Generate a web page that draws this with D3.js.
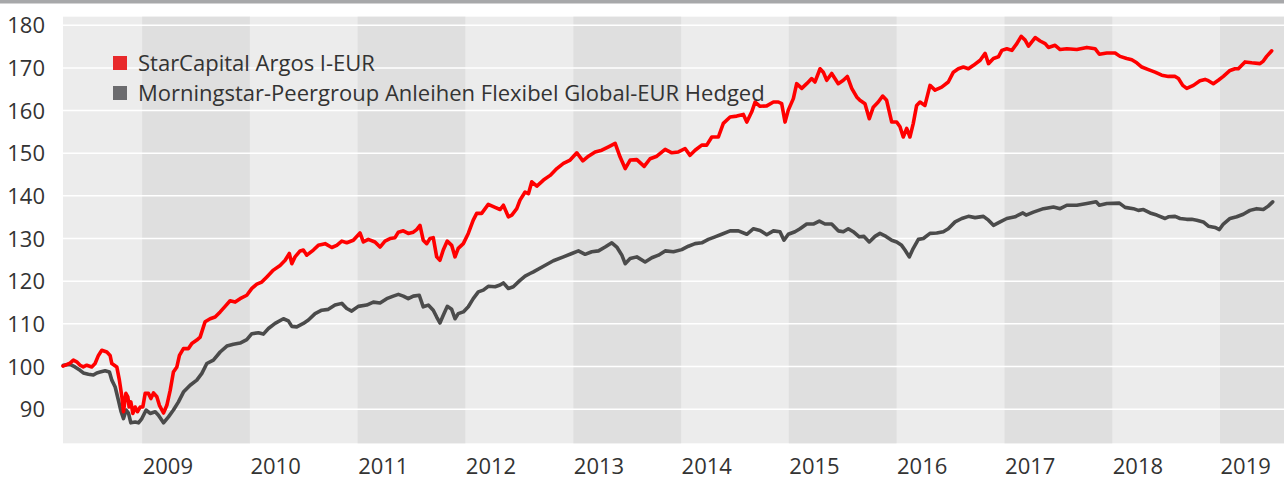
<!DOCTYPE html>
<html>
<head>
<meta charset="utf-8">
<script src="https://cdn.jsdelivr.net/npm/d3@7"></script>
<style>
  html, body { margin: 0; padding: 0; background: #ffffff; }
  svg { display: block; }
  text { font-family: "Open Sans", "Noto Sans", sans-serif; }
</style>
</head>
<body>
<svg id="chart" width="1284" height="477"></svg>
<script>
// ---- Data (decimal years, index values) ----
const seriesNames = ["StarCapital Argos I-EUR", "Morningstar-Peergroup Anleihen Flexibel Global-EUR Hedged"];
const seriesColors = ["#ff0000", "#4b4b4b"];
const legendColors = ["#e8292b", "#6b6b6e"];

const redDates = [2008.267,2008.332,2008.363,2008.394,2008.425,2008.455,2008.487,2008.533,2008.564,2008.595,2008.626,2008.673,2008.703,2008.719,2008.765,2008.789,2008.812,2008.827,2008.849,2008.867,2008.879,2008.895,2008.914,2008.935,2008.956,2008.981,2009.006,2009.028,2009.058,2009.081,2009.105,2009.136,2009.160,2009.198,2009.229,2009.260,2009.290,2009.322,2009.346,2009.383,2009.430,2009.461,2009.507,2009.538,2009.584,2009.631,2009.677,2009.724,2009.770,2009.816,2009.863,2009.909,2009.971,2010.018,2010.064,2010.110,2010.157,2010.218,2010.280,2010.327,2010.366,2010.389,2010.419,2010.466,2010.496,2010.528,2010.589,2010.635,2010.698,2010.760,2010.806,2010.853,2010.899,2010.960,2011.022,2011.053,2011.099,2011.161,2011.208,2011.254,2011.301,2011.347,2011.378,2011.424,2011.470,2011.517,2011.548,2011.579,2011.609,2011.641,2011.672,2011.702,2011.734,2011.764,2011.795,2011.832,2011.873,2011.904,2011.934,2011.981,2012.027,2012.073,2012.105,2012.151,2012.212,2012.275,2012.321,2012.352,2012.398,2012.430,2012.476,2012.506,2012.553,2012.584,2012.615,2012.662,2012.723,2012.785,2012.847,2012.908,2012.970,2013.032,2013.088,2013.140,2013.202,2013.264,2013.326,2013.388,2013.434,2013.481,2013.527,2013.589,2013.657,2013.712,2013.775,2013.852,2013.914,2013.975,2014.037,2014.083,2014.130,2014.192,2014.238,2014.285,2014.346,2014.392,2014.455,2014.517,2014.578,2014.610,2014.656,2014.687,2014.733,2014.795,2014.857,2014.903,2014.934,2014.965,2014.995,2015.042,2015.073,2015.120,2015.166,2015.212,2015.243,2015.290,2015.320,2015.352,2015.398,2015.459,2015.506,2015.543,2015.584,2015.630,2015.660,2015.707,2015.747,2015.784,2015.830,2015.871,2015.908,2015.955,2016.001,2016.032,2016.062,2016.094,2016.124,2016.155,2016.186,2016.217,2016.263,2016.310,2016.356,2016.418,2016.479,2016.526,2016.572,2016.619,2016.665,2016.712,2016.774,2016.820,2016.851,2016.897,2016.943,2016.975,2017.021,2017.068,2017.114,2017.154,2017.191,2017.222,2017.253,2017.284,2017.330,2017.377,2017.407,2017.469,2017.516,2017.578,2017.671,2017.764,2017.840,2017.880,2017.949,2018.026,2018.072,2018.134,2018.181,2018.227,2018.274,2018.335,2018.397,2018.459,2018.521,2018.583,2018.614,2018.654,2018.691,2018.753,2018.814,2018.861,2018.892,2018.938,2018.984,2019.031,2019.093,2019.139,2019.170,2019.232,2019.294,2019.371,2019.402,2019.433,2019.480];
const redValues = [100.1,100.8,101.5,101.1,100.3,99.9,100.3,99.9,100.7,102.6,103.8,103.4,102.6,100.7,99.9,96.8,92.9,89.4,93.7,92.9,90.5,91.7,89.0,90.5,89.4,90.5,90.5,93.7,93.7,92.5,93.8,92.9,90.9,89.1,90.9,94.4,98.7,99.9,102.6,104.2,104.2,105.4,106.2,106.9,110.5,111.2,111.6,112.8,114.1,115.4,115.1,115.9,116.7,118.3,119.3,119.8,121.0,122.6,123.7,124.9,126.5,124.1,125.7,127.1,127.3,126.1,127.3,128.4,128.8,127.9,128.4,129.4,129.0,129.6,131.3,129.2,129.8,129.2,128.0,129.4,130.0,130.2,131.5,131.8,131.2,131.5,132.1,133.1,129.6,128.8,130.0,130.2,125.7,124.9,127.3,129.4,128.4,125.7,127.7,128.8,131.2,134.3,135.9,135.9,138.0,137.3,136.8,137.8,135.1,135.5,137.0,139.0,140.9,140.5,143.3,142.3,143.7,144.8,146.4,147.6,148.4,150.1,148.2,149.3,150.3,150.7,151.5,152.3,149.1,146.4,148.4,148.5,146.9,148.7,149.3,150.9,150.1,150.3,151.1,149.5,150.7,151.9,151.9,153.8,153.8,157.0,158.5,158.7,159.1,157.3,159.7,162.0,161.0,161.1,162.0,162.0,161.6,157.3,160.1,162.8,166.3,165.2,166.3,167.5,166.7,169.8,169.0,167.1,168.7,166.3,167.1,168.0,165.2,163.2,162.4,161.6,158.1,160.8,162.0,163.4,162.4,157.3,157.3,156.2,153.8,155.8,153.8,157.0,161.2,162.0,161.2,165.9,164.8,165.5,166.7,169.0,169.8,170.2,169.8,170.6,171.8,173.4,171.0,172.2,172.6,174.1,174.5,174.1,175.7,177.4,176.5,175.1,176.1,177.1,176.3,175.7,174.8,175.3,174.3,174.5,174.3,174.8,174.5,173.2,173.5,173.5,172.7,172.2,171.9,171.2,170.2,169.6,169.0,168.3,168.0,168.0,167.5,165.9,165.2,165.9,167.0,167.3,167.0,166.3,167.1,168.0,169.4,169.8,169.8,171.4,171.2,171.0,171.6,172.7,174.0];

const grayDates = [2008.270,2008.332,2008.378,2008.425,2008.455,2008.502,2008.548,2008.580,2008.610,2008.657,2008.697,2008.719,2008.750,2008.780,2008.805,2008.827,2008.852,2008.873,2008.895,2008.935,2008.966,2008.997,2009.037,2009.074,2009.121,2009.151,2009.198,2009.244,2009.290,2009.337,2009.383,2009.445,2009.507,2009.554,2009.600,2009.661,2009.724,2009.786,2009.847,2009.909,2009.971,2010.018,2010.079,2010.125,2010.172,2010.234,2010.311,2010.357,2010.389,2010.435,2010.466,2010.496,2010.543,2010.605,2010.667,2010.728,2010.790,2010.853,2010.899,2010.945,2011.006,2011.084,2011.146,2011.208,2011.270,2011.331,2011.378,2011.424,2011.470,2011.517,2011.572,2011.609,2011.656,2011.702,2011.734,2011.764,2011.795,2011.832,2011.873,2011.904,2011.934,2011.981,2012.027,2012.073,2012.120,2012.166,2012.212,2012.275,2012.321,2012.352,2012.398,2012.444,2012.506,2012.553,2012.599,2012.630,2012.723,2012.815,2012.908,2012.986,2013.047,2013.109,2013.171,2013.233,2013.295,2013.357,2013.403,2013.450,2013.481,2013.527,2013.589,2013.666,2013.728,2013.790,2013.852,2013.929,2014.006,2014.068,2014.130,2014.192,2014.253,2014.315,2014.377,2014.455,2014.532,2014.610,2014.672,2014.733,2014.795,2014.857,2014.918,2014.955,2014.995,2015.057,2015.104,2015.166,2015.227,2015.283,2015.336,2015.398,2015.459,2015.506,2015.552,2015.598,2015.654,2015.698,2015.747,2015.800,2015.846,2015.902,2015.955,2016.001,2016.047,2016.078,2016.118,2016.155,2016.202,2016.248,2016.310,2016.372,2016.433,2016.479,2016.542,2016.604,2016.665,2016.727,2016.804,2016.851,2016.897,2016.959,2017.021,2017.098,2017.170,2017.200,2017.268,2017.361,2017.454,2017.516,2017.578,2017.671,2017.764,2017.850,2017.880,2017.949,2018.066,2018.119,2018.196,2018.242,2018.289,2018.351,2018.413,2018.490,2018.521,2018.583,2018.629,2018.691,2018.738,2018.784,2018.845,2018.892,2018.954,2018.994,2019.031,2019.093,2019.155,2019.216,2019.278,2019.340,2019.402,2019.448,2019.489];
const grayValues = [100.3,100.5,99.9,99.1,98.5,98.2,98.0,98.5,98.7,99.0,98.7,96.8,95.2,92.1,89.4,87.8,89.8,89.1,86.8,87.0,86.8,87.8,89.8,89.0,89.4,88.6,86.8,88.2,89.8,91.7,94.0,95.6,96.8,98.4,100.7,101.5,103.4,104.8,105.2,105.5,106.3,107.7,107.9,107.6,108.9,110.1,111.2,110.7,109.4,109.3,109.7,110.1,110.9,112.4,113.2,113.4,114.4,114.8,113.6,113.0,114.1,114.4,115.1,114.9,115.9,116.5,116.9,116.5,115.9,116.5,116.7,114.0,114.4,113.2,111.6,110.2,112.0,114.1,113.4,111.2,112.4,112.8,114.0,115.9,117.5,117.9,118.8,118.7,119.1,119.6,118.3,118.7,120.2,121.2,121.8,122.2,123.5,124.8,125.7,126.5,127.1,126.3,126.9,127.1,128.0,129.0,128.0,126.1,124.1,125.3,125.7,124.5,125.5,126.1,127.1,126.9,127.4,128.2,128.8,129.0,129.8,130.4,131.0,131.8,131.8,131.0,132.3,131.9,130.9,131.8,131.6,129.6,131.0,131.6,132.3,133.4,133.4,134.1,133.4,133.4,131.8,131.6,132.3,131.6,130.4,130.5,129.2,130.5,131.2,130.5,129.6,129.2,128.4,127.3,125.7,127.7,129.8,130.0,131.2,131.3,131.6,132.3,133.9,134.7,135.2,134.9,135.2,134.3,133.1,133.9,134.7,135.1,136.0,135.5,136.2,137.0,137.4,137.0,137.8,137.8,138.2,138.6,137.8,138.2,138.3,137.3,137.0,136.6,136.8,136.0,135.5,134.7,135.1,135.2,134.7,134.5,134.5,134.3,133.9,132.9,132.6,132.1,133.4,134.7,135.1,135.7,136.6,137.0,136.8,137.6,138.6];

const yTicks = [90, 100, 110, 120, 130, 140, 150, 160, 170, 180];
const yearLabels = [2009, 2010, 2011, 2012, 2013, 2014, 2015, 2016, 2017, 2018, 2019];
const xStart = 2008.267, xEnd = 2019.594;
const yMin = 82, yMax = 182;

// ---- helpers ----
function toDate(y) {
  const yr = Math.floor(y);
  const a = new Date(yr, 0, 1), b = new Date(yr + 1, 0, 1);
  return new Date(+a + (y - yr) * (b - a));
}

const svg = d3.select("#chart");
const W = 1284, H = 477;
const plot = { left: 63, right: 1284, top: 16.7, bottom: 443.3 };
const FS = 22;

const x = d3.scaleTime().domain([toDate(xStart), toDate(xEnd)]).range([plot.left, plot.right]);
const y = d3.scaleLinear().domain([yMin, yMax]).range([plot.bottom, plot.top]);

// top gray bar
svg.append("rect").attr("x", 0).attr("y", 0).attr("width", W).attr("height", 3.5).attr("fill", "#a7a8aa");

// plot background
svg.append("rect").attr("x", plot.left).attr("y", plot.top)
  .attr("width", plot.right - plot.left).attr("height", plot.bottom - plot.top)
  .attr("fill", "#ececec");

// alternating year bands
const bands = yearLabels.filter((yr, i) => i % 2 === 0);
svg.append("g").selectAll("rect").data(bands).join("rect")
  .attr("x", d => x(new Date(d, 0, 1)))
  .attr("y", plot.top)
  .attr("width", d => Math.min(x(new Date(d + 1, 0, 1)), plot.right) - x(new Date(d, 0, 1)))
  .attr("height", plot.bottom - plot.top)
  .attr("fill", "#dfdfdf");

// gridlines
svg.append("g").selectAll("line").data(yTicks).join("line")
  .attr("x1", plot.left).attr("x2", plot.right)
  .attr("y1", d => y(d)).attr("y2", d => y(d))
  .attr("stroke", "#ffffff").attr("stroke-width", 1.5);

// y axis
const yAxis = svg.append("g").attr("transform", `translate(${plot.left - 18},0)`)
  .call(d3.axisLeft(y).tickValues(yTicks).tickSize(0).tickPadding(0));
yAxis.select(".domain").remove();
yAxis.selectAll("text").attr("font-size", FS).attr("fill", "#333333")
  .attr("font-family", "'Open Sans', sans-serif").attr("dy", "0.35em");

// x axis
const xAxis = svg.append("g").attr("transform", `translate(0,${plot.bottom})`)
  .call(d3.axisBottom(x).tickValues(yearLabels.map(d => new Date(d, 0, 1))).tickSize(0).tickPadding(0).tickFormat(d3.timeFormat("%Y")));
xAxis.select(".domain").remove();
xAxis.selectAll("text").attr("font-size", FS).attr("fill", "#333333")
  .attr("font-family", "'Open Sans', sans-serif")
  .attr("text-anchor", "start").attr("y", 31).attr("dy", 0);

// lines
const series = [
  { dates: grayDates, values: grayValues, color: seriesColors[1] },
  { dates: redDates, values: redValues, color: seriesColors[0] }
];
const line = d3.line().x(d => x(toDate(d[0]))).y(d => y(d[1])).curve(d3.curveLinear);
svg.append("g").selectAll("path").data(series).join("path")
  .attr("d", s => line(s.dates.map((d, i) => [d, s.values[i]])))
  .attr("fill", "none")
  .attr("stroke", s => s.color)
  .attr("stroke-width", 3.6)
  .attr("stroke-linejoin", "round")
  .attr("stroke-linecap", "round");

// legend
const legend = svg.append("g").attr("transform", "translate(113,56)");
const items = legend.selectAll("g").data(seriesNames).join("g")
  .attr("transform", (d, i) => `translate(0,${i * 30})`);
items.append("rect").attr("width", 14).attr("height", 14).attr("fill", (d, i) => legendColors[i]);
items.append("text").attr("x", 25).attr("y", 7).attr("dy", "0.35em")
  .attr("font-size", FS).attr("fill", "#333333").text(d => d);
</script>
</body>
</html>
